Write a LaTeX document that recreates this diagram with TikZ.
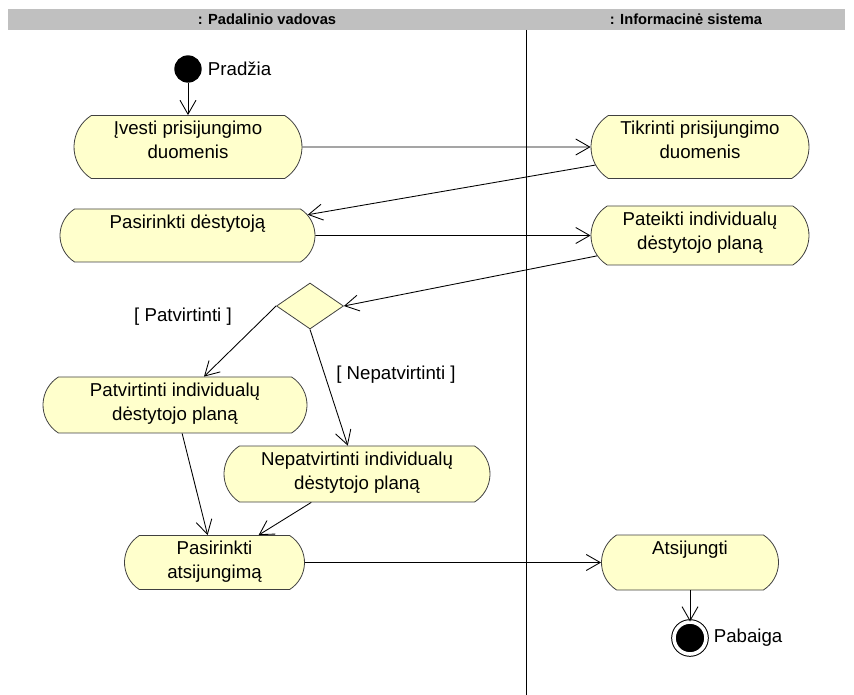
\documentclass[tikz,border=0pt]{standalone}
\usepackage{fontspec}
\setmainfont{Liberation Sans}
\usepackage{tikz}
\usetikzlibrary{arrows.meta, positioning, shapes}

\definecolor{actfill}{HTML}{FFFFCC}
\definecolor{lanegray}{HTML}{C0C0C0}

\begin{document}
\begin{tikzpicture}[x=0.75pt, y=-0.75pt,
  font=\fontsize{14}{18}\selectfont,
  act/.style={rounded rectangle, rounded rectangle arc length=115, draw=black!75,
    fill=actfill, line width=0.6pt, inner sep=0pt},
  acttext/.style={anchor=north, align=center, inner sep=0pt, yshift=-4.5pt},
  lanehead/.style={font=\bfseries\fontsize{11}{13}\selectfont},
  flow/.style={-{Straight Barb[length=10.5pt, width=12pt]}, line width=0.65pt},
  guard/.style={inner sep=0pt}]
\useasboundingbox (0,0) rectangle (854,695);

% Swimlanes
\fill[lanegray] (8,9) rectangle (845,30);
\node[lanehead] (lane1) at (267,19.5) {: Padalinio vadovas};
\node[lanehead] (lane2) at (686,19.5) {: Informacinė sistema};
\draw[line width=0.6pt] (526,30) -- (526,695);

% Initial node
\node[circle, fill=black, minimum size=20.5pt, inner sep=0pt,
  label={[label distance=1pt]right:Pradžia}] (start) at (188,69) {};

% Activities
\node[act, minimum width=171pt, minimum height=47.25pt,
  label={[acttext]north:{Įvesti prisijungimo\\duomenis}}] (a1) at (188,147) {};
\node[act, minimum width=163.5pt, minimum height=47.25pt,
  label={[acttext]north:{Tikrinti prisijungimo\\duomenis}}] (a2) at (700,147) {};
\node[act, minimum width=191.25pt, minimum height=39.75pt,
  label={[acttext]north:{Pasirinkti dėstytoją}}] (a3) at (187.5,235.5) {};
\node[act, minimum width=163.5pt, minimum height=44.25pt,
  label={[acttext]north:{Pateikti individualų\\dėstytojo planą}}] (a4) at (700,235.5) {};

% Decision
\node[diamond, draw=black!75, fill=actfill, line width=0.6pt, minimum width=50.25pt,
  minimum height=34.5pt, inner sep=0pt] (dec) at (310,306) {};

\node[act, minimum width=198pt, minimum height=42pt,
  label={[acttext]north:{Patvirtinti individualų\\dėstytojo planą}}] (a5) at (175,405) {};
\node[act, minimum width=199.5pt, minimum height=42pt,
  label={[acttext]north:{Nepatvirtinti individualų\\dėstytojo planą}}] (a6) at (357,474) {};
\node[act, minimum width=135pt, minimum height=40.5pt,
  label={[acttext]north:{Pasirinkti\\atsijungimą}}] (a7) at (214.5,562.5) {};
\node[act, minimum width=132.75pt, minimum height=41.25pt,
  label={[acttext]north:{Atsijungti}}] (a8) at (690,562.5) {};

% Final node
\node[circle, fill=black, draw, line width=0.75pt, double=white, double distance=2.7pt,
  minimum size=24pt, inner sep=0pt,
  label={[label distance=2pt]right:Pabaiga}] (end) at (690,638) {};

% Guards
\node[guard] (g1) at (183,317) {[ Patvirtinti ]};
\node[guard] (g2) at (396,375) {[ Nepatvirtinti ]};

% Transitions
\draw[flow] (start) -- (a1);
\draw[flow] (a1) -- (a2);
\draw[flow] (a2) -- (a3);
\draw[flow] (a3) -- (a4);
\draw[flow] (a4) -- (dec.east);
\draw[flow] (dec.west) -- (a5);
\draw[flow] (dec.south) -- (a6);
\draw[flow] (a5) -- (a7);
\draw[flow] (a6) -- (a7);
\draw[flow] (a7) -- (a8);
\draw[flow] (a8) -- (end);
\end{tikzpicture}
\end{document}
